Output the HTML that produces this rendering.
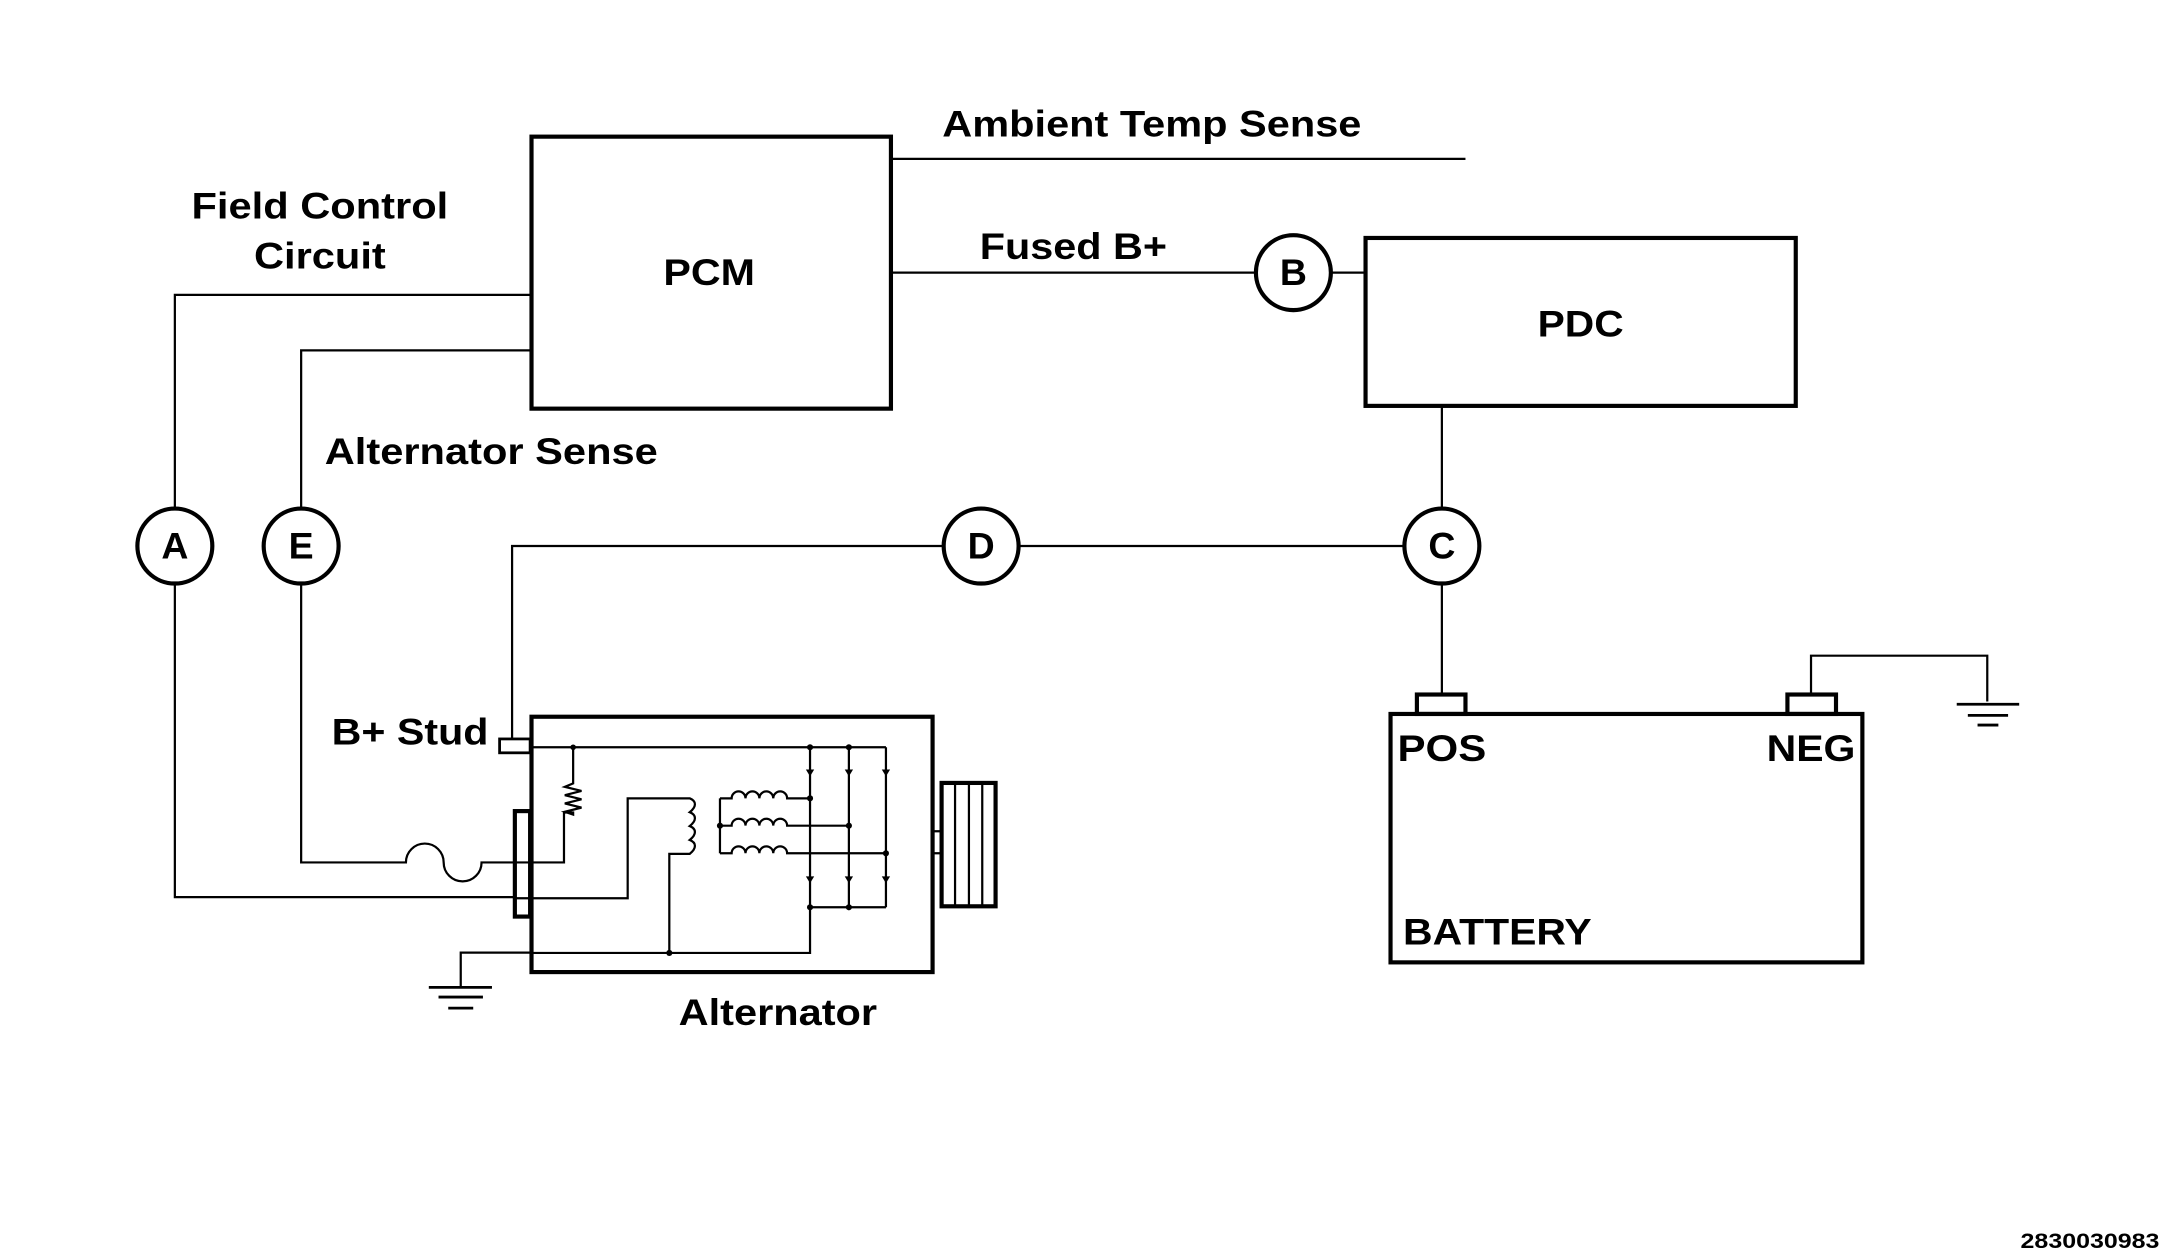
<!DOCTYPE html>
<html><head><meta charset="utf-8"><style>html,body{margin:0;padding:0;background:#fff}svg{display:block}text{font-family:"Liberation Sans",Arial,sans-serif;font-weight:bold;fill:#000}</style></head>
<body>
<svg width="2176" height="1260" viewBox="0 0 1568 907" xmlns="http://www.w3.org/2000/svg">
<g fill="none" stroke="#000" stroke-width="1.6">
<rect x="383" y="98" width="259" height="196" stroke-width="3"/>
<rect x="984" y="171" width="310" height="121" stroke-width="3"/>
<rect x="1002" y="514" width="340" height="179" stroke-width="3"/>
<rect x="1021" y="500" width="35" height="14" stroke-width="3"/>
<rect x="1288" y="500" width="35" height="14" stroke-width="3"/>
<circle cx="126" cy="393" r="27" stroke-width="3"/>
<circle cx="217" cy="393" r="27" stroke-width="3"/>
<circle cx="707" cy="393" r="27" stroke-width="3"/>
<circle cx="1039" cy="393" r="27" stroke-width="3"/>
<circle cx="932" cy="196" r="27" stroke-width="3"/>
<path d="M642 114H1056"/>
<path d="M642 196H905M959 196H984"/>
<path d="M383 212H126V366M126 420V646H370"/>
<path d="M383 252H217V366M217 420V621H292.5A13.6 13.6 0 0 1 319.7 621A13.6 13.6 0 0 0 347 621H370"/>
<path d="M369 532V393H680M734 393H1012"/>
<path d="M1039 292V366M1039 420V500"/>
<path d="M1305 500V472H1432V505"/>
<path d="M1410 507H1455M1418 515H1447M1425 522H1440" stroke-width="2"/>
<path d="M382 686H332V711"/>
<path d="M309 711H354.5M316 718H348M323 726H341" stroke-width="2"/>
<rect x="383" y="516" width="289" height="184" stroke-width="3"/>
<rect x="360" y="532" width="22" height="10" stroke-width="2"/>
<rect x="371" y="584" width="11" height="76" stroke-width="3"/>
<path d="M382 538H638.4"/>
<path d="M413 538V564l-6 2.5 12 3-12 3 12 3-12 3 12 3-12 3l6 2V585H406.4V621H370"/>
<path d="M370 646.8H452.3V574.8H497c5 2 5 6 0 10c5 2 5 6 0 10c5 2 5 6 0 10c5 2 5 6 0 10H482.3V686.2"/>
<path d="M382 686.2H583.7V653.3"/>
<path d="M518.8 574.8V614.4"/>
<path d="M518.8 574.8H527.2a5 5 0 0 1 10 0a5 5 0 0 1 10 0a5 5 0 0 1 10 0a5 5 0 0 1 10 0H583.7"/>
<path d="M518.8 594.5H527.2a5 5 0 0 1 10 0a5 5 0 0 1 10 0a5 5 0 0 1 10 0a5 5 0 0 1 10 0H611.7"/>
<path d="M518.8 614.4H527.2a5 5 0 0 1 10 0a5 5 0 0 1 10 0a5 5 0 0 1 10 0a5 5 0 0 1 10 0H638.4"/>
<path d="M583.7 538V653.3M611.7 538V653.3M638.4 538V653.3M583.7 653.3H638.4"/>
<path d="M672 598.5H678.5M672 614.4H678.5"/>
<rect x="678.5" y="563.7" width="38.9" height="88.9" stroke-width="3"/>
<path d="M688.2 563.7V652.6M698.2 563.7V652.6M707.8 563.7V652.6"/>
</g>
<g fill="#000">
<circle cx="413" cy="538" r="2"/><circle cx="583.7" cy="538" r="2.2"/><circle cx="611.7" cy="538" r="2.2"/>
<circle cx="583.7" cy="574.8" r="2.2"/><circle cx="611.7" cy="594.5" r="2.2"/><circle cx="638.4" cy="614.4" r="2.2"/>
<circle cx="518.8" cy="594.5" r="2.2"/><circle cx="482.3" cy="686.2" r="2.2"/>
<circle cx="583.7" cy="653.3" r="2.2"/><circle cx="611.7" cy="653.3" r="2.2"/>
<path d="M580.7 554h6l-3 5z M608.7 554h6l-3 5z M635.4 554h6l-3 5z M580.7 631h6l-3 5z M608.7 631h6l-3 5z M635.4 631h6l-3 5z"/>
</g>
<g font-size="27" lengthAdjust="spacingAndGlyphs">
<text x="138" y="157" textLength="185" lengthAdjust="spacingAndGlyphs">Field Control</text>
<text x="183" y="193" textLength="95" lengthAdjust="spacingAndGlyphs">Circuit</text>
<text x="478" y="205" textLength="66" lengthAdjust="spacingAndGlyphs">PCM</text>
<text x="679" y="98" textLength="302" lengthAdjust="spacingAndGlyphs">Ambient Temp Sense</text>
<text x="706" y="186" textLength="135" lengthAdjust="spacingAndGlyphs">Fused B+</text>
<text x="1108" y="242" textLength="62" lengthAdjust="spacingAndGlyphs">PDC</text>
<text x="234" y="334" textLength="240" lengthAdjust="spacingAndGlyphs">Alternator Sense</text>
<text x="126" y="402" text-anchor="middle">A</text>
<text x="217" y="402" text-anchor="middle">E</text>
<text x="707" y="402" text-anchor="middle">D</text>
<text x="1039" y="402" text-anchor="middle">C</text>
<text x="932" y="205" text-anchor="middle">B</text>
<text x="239" y="536" textLength="113" lengthAdjust="spacingAndGlyphs">B+ Stud</text>
<text x="489" y="738" textLength="143" lengthAdjust="spacingAndGlyphs">Alternator</text>
<text x="1007" y="548" textLength="64" lengthAdjust="spacingAndGlyphs">POS</text>
<text x="1273" y="548" textLength="64" lengthAdjust="spacingAndGlyphs">NEG</text>
<text x="1011" y="680" textLength="136" lengthAdjust="spacingAndGlyphs">BATTERY</text>
</g>
<text x="1456" y="899" font-size="15" textLength="100" lengthAdjust="spacingAndGlyphs">2830030983</text>
</svg>
</body></html>
